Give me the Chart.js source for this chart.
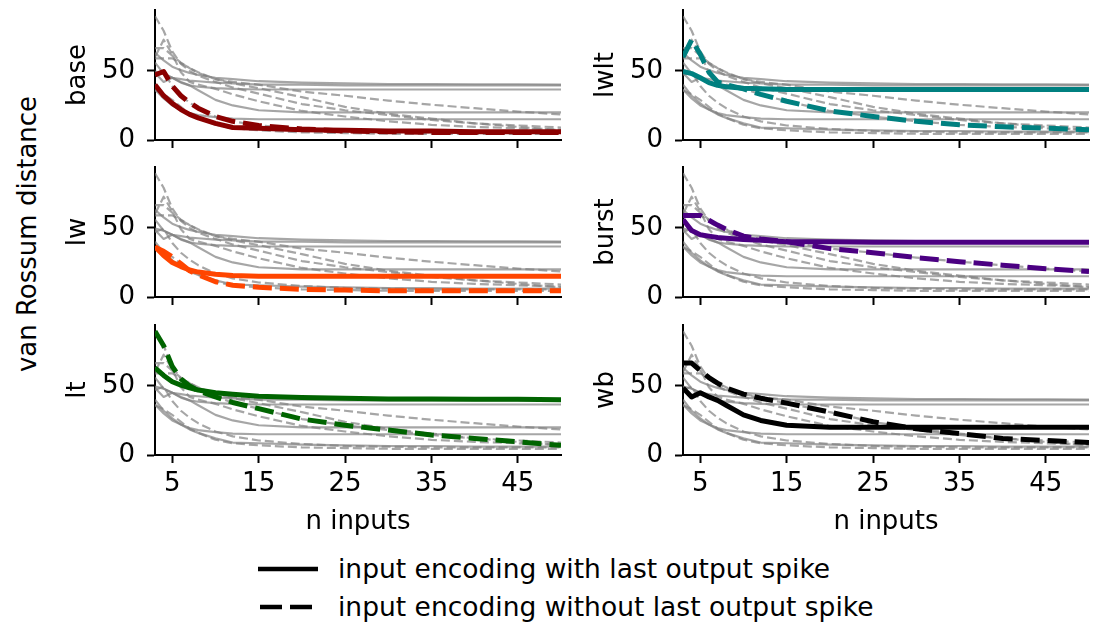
<!DOCTYPE html>
<html>
<head>
<meta charset="utf-8">
<script src="https://cdn.jsdelivr.net/npm/chart.js@4.4.1/dist/chart.umd.min.js"></script>
<style>
html,body{margin:0;padding:0;background:#fff;width:1098px;height:623px;overflow:hidden;font-family:'DejaVu Sans',sans-serif;}
canvas{position:absolute;}
.t{position:absolute;font-size:26px;line-height:26px;color:#000;white-space:nowrap;font-family:'DejaVu Sans',sans-serif;}
.lg{font-size:26.5px;line-height:26.5px;}
</style>
</head>
<body>
<div class="t" style="left:-173.5px;top:221px;width:400px;height:26px;text-align:center;transform:rotate(-90deg);">van Rossum distance</div>
<svg style="position:absolute;left:258px;top:564px;" width="62" height="10"><line x1="0" y1="5" x2="60" y2="5" stroke="#000" stroke-width="4.5"/></svg>
<div class="t lg" style="left:338px;top:555.6px;">input encoding with last output spike</div>
<svg style="position:absolute;left:258px;top:602px;" width="62" height="10"><line x1="2" y1="5" x2="60" y2="5" stroke="#000" stroke-width="4.5" stroke-dasharray="22,8"/></svg>
<div class="t lg" style="left:338px;top:594.3px;">input encoding without last output spike</div>
<script>
// ---- data ----
const nInputs = [3, 4, 5, 6, 7, 8, 10, 12, 15, 20, 25, 30, 35, 40, 45, 50];
const xTicks = [5, 15, 25, 35, 45];
const yTicks = [0, 50];
const panelNames = ['base', 'lwlt', 'lw', 'burst', 'lt', 'wb'];
const panelColors = ['#8b0000', '#008080', '#ff4500', '#4b0082', '#006400', '#000000'];
const legendLabels = ['input encoding with last output spike', 'input encoding without last output spike'];

const baseWith     = [40, 32, 26.5, 22, 18.5, 16, 12, 9, 8.5, 7.5, 7, 6.5, 6.5, 6, 6, 6];
const baseWithout  = [47, 49.5, 39, 32, 27, 23, 17, 13.5, 10.5, 8, 6.5, 6, 5.5, 5.5, 5.5, 5.5];
const lwltWith     = [49.5, 48, 45, 41.5, 39.5, 38.5, 37.5, 37, 36.5, 36.5, 36.5, 36.5, 36.5, 36.5, 36.5, 36.5];
const lwltWithout  = [60, 72.5, 62, 49, 42, 40, 37, 33, 28, 21, 17, 13.5, 11, 9.5, 8.5, 7.5];
const lwWith       = [36.5, 30, 25, 22, 19.5, 18, 16.5, 15.5, 15, 15, 15, 15, 15, 15, 15, 15];
const lwWithout    = [36, 33, 29, 24, 19, 16, 11, 8.5, 7, 5.5, 5, 4.5, 4.5, 4.5, 4.5, 4.5];
const burstWith    = [56, 48, 45, 44, 43, 42.5, 41.5, 41, 40, 40, 39.5, 39.5, 39.5, 39.5, 39.5, 39.5];
const burstWithout = [59, 59, 59, 55.5, 52, 49, 44, 42, 40, 35, 32, 28.5, 25.5, 23, 20.5, 18.5];
const ltWith       = [63, 57.5, 53, 50.5, 48.5, 47, 45, 44, 42.5, 41.5, 41, 40.5, 40.5, 40.3, 40.3, 40];
const ltWithout    = [89.5, 79, 64, 55, 50, 46.5, 42, 38, 33.5, 26, 21.5, 18, 14.5, 12, 9.5, 7];
const wbWith       = [48.5, 42, 45, 42, 39.5, 36, 29, 25, 21.5, 20, 20, 20, 20, 20, 20, 20];
const wbWithout    = [66.5, 66.5, 61, 56, 52, 48.5, 44, 41, 37.5, 31, 24, 19, 15.5, 12, 10.5, 9];

const withSeries    = [baseWith, lwltWith, lwWith, burstWith, ltWith, wbWith];
const withoutSeries = [baseWithout, lwltWithout, lwWithout, burstWithout, ltWithout, wbWithout];

// ---- drawing ----
const F = "'DejaVu Sans', sans-serif";
Chart.defaults.color = '#000';
Chart.defaults.font.family = F;
const GRAY = 'rgba(128,128,128,0.7)';

function pts(arr) { return nInputs.map((x, i) => ({ x: x, y: arr[i] })); }

function ds(arr, color, dashed, highlight) {
  return {
    data: pts(arr),
    borderColor: color,
    backgroundColor: color,
    borderWidth: highlight ? 5 : 2.2,
    borderDash: dashed ? (highlight ? [19, 8] : [9, 4]) : [],
    borderJoinStyle: 'round',
    pointRadius: 0,
    tension: 0,
    fill: false,
    order: highlight ? 0 : 1
  };
}

function makePanel(idx) {
  const col = idx % 2, row = Math.floor(idx / 2);
  const plotLeft = [155, 683][col];
  const plotTop = [10, 167, 324.5][row];
  const YW = 100, PT = 5, PR = 6, PW = 406, PH = 130;
  const XH = row === 2 ? 83 : 20;
  const cv = document.createElement('canvas');
  cv.width = YW + PW + PR;
  cv.height = PT + PH + XH;
  cv.style.left = (plotLeft - YW) + 'px';
  cv.style.top = (plotTop - PT) + 'px';
  document.body.appendChild(cv);

  const datasets = [];
  datasets.push(ds(withSeries[idx], panelColors[idx], false, true));
  datasets.push(ds(withoutSeries[idx], panelColors[idx], true, true));
  for (let k = 0; k < withSeries.length; k++) {
    datasets.push(ds(withSeries[k], GRAY, false, false));
    datasets.push(ds(withoutSeries[k], GRAY, true, false));
  }
  const font = { size: 26, family: F };
  const gridOpt = { display: true, drawOnChartArea: false, drawTicks: true, tickLength: 8, tickWidth: 2, tickColor: '#000' };
  const borderOpt = { display: true, color: '#000', width: 2 };
  new Chart(cv, {
    type: 'line',
    data: { datasets: datasets },
    options: {
      responsive: false,
      animation: false,
      devicePixelRatio: 1,
      events: [],
      layout: { padding: { top: PT, right: PR, left: 0, bottom: 0 } },
      plugins: { legend: { display: false }, tooltip: { enabled: false } },
      scales: {
        x: {
          type: 'linear', min: 3, max: 50,
          afterBuildTicks: s => { s.ticks = xTicks.map(v => ({ value: v })); },
          afterFit: s => { s.height = XH; s.paddingLeft = 0; s.paddingRight = 0; s.paddingTop = 0; s.paddingBottom = 0; },
          grid: gridOpt, border: borderOpt,
          ticks: { display: row === 2, font: font, color: '#000', padding: 6, maxRotation: 0, autoSkip: false },
          title: { display: row === 2, text: 'n inputs', font: font, color: '#000', padding: { top: 0, bottom: 0 } }
        },
        y: {
          type: 'linear', min: 0, max: 94,
          afterBuildTicks: s => { s.ticks = yTicks.map(v => ({ value: v })); },
          afterFit: s => { s.width = YW; s.paddingLeft = 0; s.paddingRight = 0; s.paddingTop = 0; s.paddingBottom = 0; },
          grid: gridOpt, border: borderOpt,
          ticks: { font: font, color: '#000', padding: 12 },
          title: { display: true, text: panelNames[idx], font: font, color: '#000', padding: { top: 8, bottom: 0 } }
        }
      }
    }
  });
}
for (let i = 0; i < panelNames.length; i++) makePanel(i);
</script>
</body>
</html>
